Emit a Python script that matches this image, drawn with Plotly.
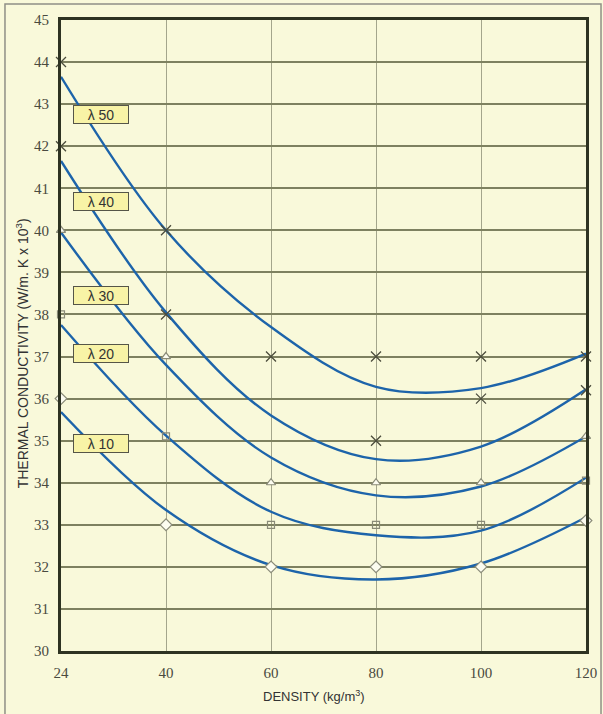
import plotly.graph_objects as go

# ---- data ----
density = ["24", "40", "60", "80", "100", "120"]

curve_labels = ["λ 50", "λ 40", "λ 30", "λ 20", "λ 10"]
lambda50 = [43.65, 40.0, 37.7, 36.28, 36.25, 37.07]
lambda40 = [41.65, 38.05, 35.6, 34.56, 34.86, 36.22]
lambda30 = [39.95, 36.8, 34.6, 33.7, 33.91, 35.1]
lambda20 = [37.75, 35.12, 33.31, 32.75, 32.86, 34.12]
lambda10 = [35.68, 33.35, 32.04, 31.7, 32.08, 33.18]

# measured points
x_cross = ["24", "24", "40", "40", "60", "80", "80", "100", "100", "120", "120"]
y_cross = [44, 42, 40, 38, 37, 37, 35, 37, 36, 37, 36.2]
x_tri = ["24", "40", "60", "80", "100", "120"]
y_tri = [40, 37, 34, 34, 34, 35.1]
x_sq = ["24", "40", "60", "80", "100", "120"]
y_sq = [38, 35.1, 33, 33, 33, 34.05]
x_dia = ["24", "40", "60", "80", "100", "120"]
y_dia = [36, 33, 32, 32, 32, 33.1]

# label positions (y value of each box)
label_y = [42.75, 40.69, 38.46, 37.08, 34.93]

y_ticks = list(range(30, 46))

x_title = "DENSITY (kg/m<sup>3</sup>)"
y_title = "THERMAL CONDUCTIVITY (W/m. K x 10<sup>3</sup>)"

# ---- figure ----
BG = "#F9F9DA"
SANS = "Liberation Sans, Arial, sans-serif"
SERIF = "Liberation Serif, Times New Roman, serif"
fig = go.Figure()

for ys in [lambda50, lambda40, lambda30, lambda20, lambda10]:
    fig.add_trace(go.Scatter(
        x=density, y=ys, mode="lines",
        line=dict(color="#1D64AA", width=2.4, shape="spline", smoothing=1.0),
        hoverinfo="skip", showlegend=False))

fig.add_trace(go.Scatter(
    x=x_cross, y=y_cross, mode="markers", cliponaxis=False,
    marker=dict(symbol="x-thin", size=10, line=dict(color="#4B4C3C", width=1.3)),
    showlegend=False))
fig.add_trace(go.Scatter(
    x=x_tri, y=y_tri, mode="markers", cliponaxis=False,
    marker=dict(symbol="triangle-up", size=8, color="#FCFCF0",
                line=dict(color="#8A8B78", width=1.2)),
    showlegend=False))
fig.add_trace(go.Scatter(
    x=x_sq, y=y_sq, mode="markers", cliponaxis=False,
    marker=dict(symbol="square", size=7, color="rgba(0,0,0,0)",
                line=dict(color="#8A8B78", width=1.2)),
    showlegend=False))
fig.add_trace(go.Scatter(
    x=x_dia, y=y_dia, mode="markers", cliponaxis=False,
    marker=dict(symbol="diamond", size=9, color="#FCFCF0",
                line=dict(color="#8A8B78", width=1.2)),
    showlegend=False))

for txt, yv in zip(curve_labels, label_y):
    fig.add_annotation(
        x=0.076, xref="paper", xanchor="center", y=yv, yref="y", yanchor="middle",
        text=txt, showarrow=False,
        font=dict(family=SANS, size=14, color="#333333"),
        bgcolor="#F8F3A6", bordercolor="#555548", borderwidth=1,
        width=52, height=15, borderpad=1, align="center")

# axis titles
fig.add_annotation(
    x=-0.074, xref="paper", xanchor="center", y=0.472, yref="paper", yanchor="middle",
    text=y_title, textangle=-90, showarrow=False,
    font=dict(family=SANS, size=14, color="#333333"))
fig.add_annotation(
    x=0.482, xref="paper", xanchor="center", y=-0.072, yref="paper", yanchor="middle",
    text=x_title, showarrow=False,
    font=dict(family=SANS, size=13, color="#333333"))

# outer border of the picture
fig.add_shape(type="rect", xref="paper", yref="paper",
              x0=-0.1067, x1=1.0286, y0=-0.14, y1=1.0254,
              line=dict(color="#8F8F86", width=1.5), layer="above")

fig.update_layout(
    width=603, height=714,
    margin=dict(l=61, r=17, t=20, b=63),
    paper_bgcolor=BG, plot_bgcolor=BG,
    showlegend=False,
    xaxis=dict(
        type="category", categoryorder="array", categoryarray=density,
        range=[0, 5], showgrid=True, gridcolor="#A4A68C", gridwidth=1,
        showline=True, mirror=True, linecolor="#2E3322", linewidth=3,
        ticks="", ticklabelstandoff=6, automargin=False,
        tickfont=dict(family=SERIF, size=15, color="#4A4A40"),
        zeroline=False),
    yaxis=dict(
        range=[30, 45], tickvals=y_ticks, showgrid=True,
        gridcolor="#7E8160", gridwidth=1.5,
        showline=True, mirror=True, linecolor="#2E3322", linewidth=3,
        ticks="", ticklabelstandoff=6, automargin=False,
        tickfont=dict(family=SERIF, size=15, color="#4A4A40"),
        zeroline=False),
)

fig.write_html(
    "out.html",
    config={"displayModeBar": False},
    post_script="document.body.style.margin='0';document.body.style.overflow='hidden';"
                "document.body.style.background='" + BG + "';",
)
